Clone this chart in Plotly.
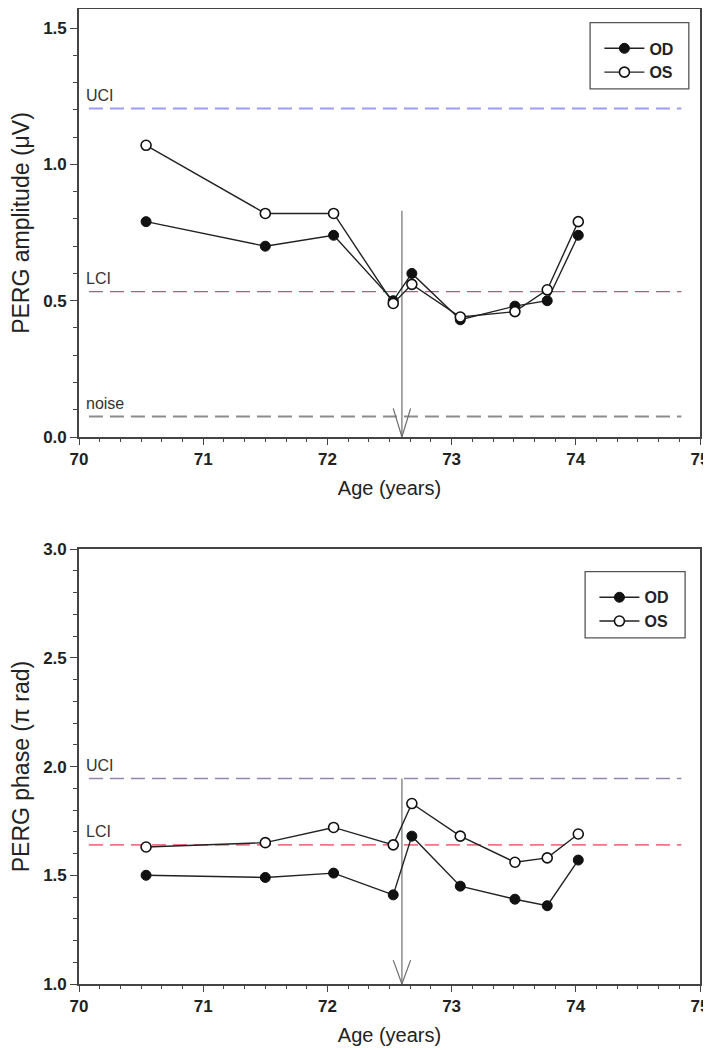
import plotly.graph_objects as go

# ages of the visits (years)
age = [70.54, 71.50, 72.05, 72.53, 72.68, 73.07, 73.51, 73.77, 74.02]

# PERG amplitude (uV)
amp_od = [0.79, 0.70, 0.74, 0.50, 0.60, 0.43, 0.48, 0.50, 0.74]
amp_os = [1.07, 0.82, 0.82, 0.49, 0.56, 0.44, 0.46, 0.54, 0.79]

# PERG phase (pi rad)
phase_od = [1.50, 1.49, 1.51, 1.41, 1.68, 1.45, 1.39, 1.36, 1.57]
phase_os = [1.63, 1.65, 1.72, 1.64, 1.83, 1.68, 1.56, 1.58, 1.69]

# normal limits
amp_uci, amp_lci, amp_noise = 1.205, 0.533, 0.075
phase_uci, phase_lci = 1.945, 1.64
limit_span = [70.08, 74.85]

# event marker
arrow_age = 72.6
amp_arrow_top, amp_arrow_bottom = 0.83, 0.0
phase_arrow_top, phase_arrow_bottom = 1.945, 1.0

FONT = "Liberation Sans, Arial, sans-serif"
DASH = "14px,7px"

fig = go.Figure()


def ref_line(y, color, width, xa, ya):
    fig.add_trace(go.Scatter(
        x=limit_span, y=[y, y], mode="lines", xaxis=xa, yaxis=ya,
        line=dict(color=color, width=width, dash=DASH),
        showlegend=False, hoverinfo="skip",
    ))


def arrow(top, bottom, head_h, xa, ya):
    fig.add_trace(go.Scatter(
        x=[arrow_age, arrow_age], y=[top, bottom], mode="lines",
        xaxis=xa, yaxis=ya, line=dict(color="#6e6e6e", width=1.2),
        showlegend=False, hoverinfo="skip",
    ))
    fig.add_trace(go.Scatter(
        x=[arrow_age - 0.07, arrow_age, arrow_age + 0.07],
        y=[bottom + head_h, bottom, bottom + head_h], mode="lines",
        xaxis=xa, yaxis=ya, line=dict(color="#6e6e6e", width=1.2),
        showlegend=False, hoverinfo="skip",
    ))


def eyes(od, os_, xa, ya, legend):
    fig.add_trace(go.Scatter(
        x=age, y=od, name="OD", mode="lines+markers", xaxis=xa, yaxis=ya,
        legend=legend,
        line=dict(color="#222222", width=1.4),
        marker=dict(size=10, color="#111111", line=dict(color="#111111", width=1)),
    ))
    fig.add_trace(go.Scatter(
        x=age, y=os_, name="OS", mode="lines+markers", xaxis=xa, yaxis=ya,
        legend=legend,
        line=dict(color="#222222", width=1.4),
        marker=dict(size=10, color="white", line=dict(color="#111111", width=1.6)),
    ))


# top panel: amplitude
ref_line(amp_uci, "#9c9cf2", 2, "x", "y")
ref_line(amp_lci, "#a8607c", 1.3, "x", "y")
ref_line(amp_noise, "#8c8c8c", 2, "x", "y")
arrow(amp_arrow_top, amp_arrow_bottom, 0.105, "x", "y")
eyes(amp_od, amp_os, "x", "y", "legend")

# bottom panel: phase
ref_line(phase_uci, "#9484b0", 1.6, "x2", "y2")
ref_line(phase_lci, "#f27484", 1.8, "x2", "y2")
arrow(phase_arrow_top, phase_arrow_bottom, 0.11, "x2", "y2")
eyes(phase_od, phase_os, "x2", "y2", "legend2")

labels = [
    ("UCI", amp_uci, "x", "y"), ("LCI", amp_lci, "x", "y"),
    ("noise", amp_noise, "x", "y"),
    ("UCI", phase_uci, "x2", "y2"), ("LCI", phase_lci, "x2", "y2"),
]
for text, y, xa, ya in labels:
    fig.add_annotation(
        x=70.04, y=y, xref=xa, yref=ya, text=text, showarrow=False,
        xanchor="left", yanchor="middle", yshift=13,
        font=dict(family=FONT, size=16, color="#333333"),
    )

# legend frames
for x0, x1, y0, y1 in [(0.823, 0.982, 0.918, 0.986), (0.815, 0.976, 0.355, 0.423)]:
    fig.add_shape(type="rect", xref="paper", yref="paper",
                  x0=x0, x1=x1, y0=y0, y1=y1,
                  line=dict(color="#555555", width=1.3), fillcolor="white",
                  layer="below")

tick_font = dict(family=FONT, size=17, color="#222222", weight="bold")
title_font = dict(family=FONT, size=20, color="#222222")
ytitle_font = dict(family=FONT, size=23, color="#222222")

xcommon = dict(
    range=[70, 75], dtick=1, tick0=70, ticks="outside", ticklen=6,
    tickwidth=1.3, tickcolor="#444444",
    minor=dict(dtick=1 / 6, tick0=70, ticks="outside", ticklen=3,
               tickcolor="#444444"),
    showline=True, linecolor="#444444", linewidth=1.6, mirror=True,
    showgrid=False, zeroline=False, tickfont=tick_font, automargin=False,
    title=dict(text="Age (years)", font=title_font, standoff=13),
)
ycommon = dict(
    dtick=0.5, ticks="outside", ticklen=7, tickwidth=1.3, tickcolor="#444444",
    showline=True, linecolor="#444444", linewidth=1.6, mirror=True,
    showgrid=False, zeroline=False, tickfont=tick_font, tickformat=".1f",
    automargin=False,
)

legend_common = dict(
    bgcolor="rgba(0,0,0,0)", borderwidth=0,
    font=dict(family=FONT, size=16, color="#222222", weight="bold"),
    xanchor="left", yanchor="top", itemwidth=40,
)

fig.update_layout(
    width=703, height=1042,
    margin=dict(l=71, r=11, t=1, b=66, autoexpand=False),
    paper_bgcolor="white", plot_bgcolor="rgba(0,0,0,0)",
    xaxis=dict(xcommon, domain=[0, 1], anchor="y"),
    yaxis=dict(ycommon, domain=[0.561, 1], anchor="x", range=[0, 1.57],
               tick0=0,
               minor=dict(dtick=0.1, ticks="outside", ticklen=4,
                          tickcolor="#444444"),
               title=dict(text="PERG amplitude (μV)", font=ytitle_font,
                          standoff=16)),
    xaxis2=dict(xcommon, domain=[0, 1], anchor="y2"),
    yaxis2=dict(ycommon, domain=[0, 0.446], anchor="x2", range=[1, 3],
                tick0=1,
                minor=dict(dtick=0.1, ticks="outside", ticklen=4,
                           tickcolor="#444444"),
                title=dict(text="PERG phase (π rad)", font=ytitle_font,
                           standoff=16)),
    legend=dict(legend_common, x=0.838, y=0.977),
    legend2=dict(legend_common, x=0.83, y=0.414),
)

fig.write_html("out.html")
